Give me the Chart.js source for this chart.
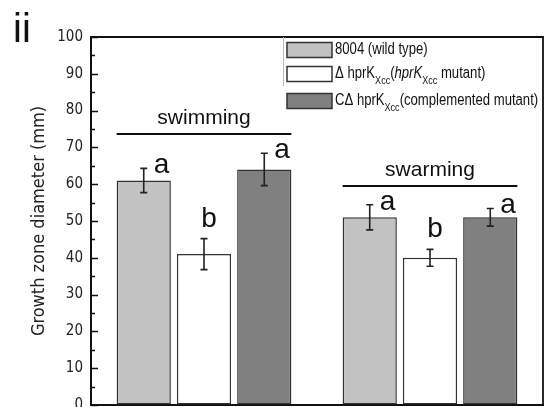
<!DOCTYPE html>
<html>
<head>
<meta charset="utf-8">
<script src="https://cdn.jsdelivr.net/npm/chart.js@4"></script>
<style>
  html, body { margin: 0; padding: 0; background: #fff; overflow: hidden; }
  #wrap { position: relative; width: 546px; height: 422px; }
</style>
</head>
<body>
<div id="wrap"><canvas id="motilityChart"></canvas></div>
<script>
'use strict';

// data (mm)
var assays = ['swimming', 'swarming'];
var wildType = [61, 51];
var wildTypeErr = [3.3, 3.4];
var mutant = [41, 40];
var mutantErr = [4.2, 2.3];
var complemented = [64, 51];
var complementedErr = [4.4, 2.4];
var letters = [['a', 'b', 'a'], ['a', 'b', 'a']];
var yTicks = [0, 10, 20, 30, 40, 50, 60, 70, 80, 90, 100];

var narrow = "'Liberation Sans Narrow', 'DejaVu Sans Condensed', 'Liberation Sans', sans-serif";
var sans = "'Liberation Sans', Arial, sans-serif";
var errs = [wildTypeErr, mutantErr, complementedErr];

// error bars, significance letters, group labels, frame, ticks, legend
var decor = {
  id: 'decor',
  afterDatasetsDraw: function(chart) {
    var ctx = chart.ctx, y = chart.scales.y, x = chart.scales.x, area = chart.chartArea;
    ctx.save();

    // error bars
    var tops = [[], []];
    ctx.strokeStyle = '#222';
    ctx.lineWidth = 1.6;
    chart.data.datasets.forEach(function(ds, d) {
      var meta = chart.getDatasetMeta(d);
      meta.data.forEach(function(bar, i) {
        var v = ds.data[i], e = errs[d][i];
        var yt = y.getPixelForValue(v + e), yb = y.getPixelForValue(v - e);
        tops[i][d] = yt;
        ctx.beginPath();
        ctx.moveTo(bar.x, yt); ctx.lineTo(bar.x, yb);
        ctx.moveTo(bar.x - 3.5, yt); ctx.lineTo(bar.x + 3.5, yt);
        ctx.moveTo(bar.x - 3.5, yb); ctx.lineTo(bar.x + 3.5, yb);
        ctx.stroke();

        // letter
        var l = letters[i][d];
        ctx.fillStyle = '#111';
        ctx.font = '28px ' + sans;
        ctx.textBaseline = 'alphabetic';
        if (l === 'a') {
          ctx.textAlign = 'left';
          ctx.fillText(l, bar.x + 10, yt + 5);
        } else {
          ctx.textAlign = 'center';
          ctx.fillText(l, bar.x + 5, yt - 12);
        }
      });
    });

    // group labels with lines
    assays.forEach(function(name, i) {
      var first = chart.getDatasetMeta(0).data[i];
      var last = chart.getDatasetMeta(2).data[i];
      var lineY = Math.round(Math.min.apply(null, tops[i]) - 19);
      ctx.strokeStyle = '#111';
      ctx.lineWidth = 2;
      ctx.beginPath();
      ctx.moveTo(first.x - first.width / 2, lineY);
      ctx.lineTo(last.x + last.width / 2, lineY);
      ctx.stroke();
      ctx.fillStyle = '#111';
      ctx.font = '21px ' + sans;
      ctx.textAlign = 'center';
      ctx.fillText(name, x.getPixelForValue(i), lineY - 10);
    });

    // frame top / right
    ctx.strokeStyle = '#111';
    ctx.lineWidth = 1.8;
    ctx.beginPath();
    ctx.moveTo(area.left, area.top);
    ctx.lineTo(area.right, area.top);
    ctx.lineTo(area.right, area.bottom);
    ctx.stroke();

    // inward ticks, major every 10, minor every 5
    ctx.lineWidth = 1.4;
    ctx.beginPath();
    for (var v = 0; v <= 100; v += 5) {
      var py = Math.round(y.getPixelForValue(v)) + 0.5;
      var len = v % 10 === 0 ? 7 : 4;
      ctx.moveTo(area.left, py);
      ctx.lineTo(area.left + len, py);
    }
    ctx.stroke();

    // legend
    var lx = 287, sw = 45, sh = 15;
    var rows = [50, 74, 101];
    ctx.strokeStyle = '#bbb';
    ctx.lineWidth = 1;
    ctx.beginPath();
    ctx.moveTo(283.5, area.top); ctx.lineTo(283.5, 86);
    ctx.stroke();
    chart.data.datasets.forEach(function(ds, d) {
      var cy = rows[d];
      ctx.fillStyle = ds.backgroundColor;
      ctx.fillRect(lx, cy - sh / 2, sw, sh);
      ctx.strokeStyle = '#333';
      ctx.lineWidth = 1.5;
      ctx.strokeRect(lx, cy - sh / 2, sw, sh);
    });
    var tx = 335, squeeze = 0.82;
    ctx.fillStyle = '#111';
    ctx.textAlign = 'left';
    ctx.textBaseline = 'middle';
    function run(parts, cy) {
      var px = 0;
      ctx.save();
      ctx.translate(tx, cy);
      ctx.scale(squeeze, 1);
      parts.forEach(function(p) {
        var size = p.sub ? 11 : 16;
        ctx.font = (p.it ? 'italic ' : '') + size + 'px ' + sans;
        ctx.fillText(p.t, px, p.sub ? 7 : 0);
        px += ctx.measureText(p.t).width;
      });
      ctx.restore();
    }
    run([{t: '8004 (wild type)'}], rows[0]);
    run([{t: '\u0394 hprK'}, {t: 'Xcc', sub: true}, {t: '('}, {t: 'hprK', it: true},
         {t: 'Xcc', sub: true}, {t: ' mutant)'}], rows[1]);
    run([{t: 'C\u0394 hprK'}, {t: 'Xcc', sub: true}, {t: '(complemented mutant)'}], rows[2]);

    // panel mark
    ctx.font = '40px ' + sans;
    ctx.textAlign = 'left';
    ctx.textBaseline = 'alphabetic';
    ctx.fillText('ii', 13, 42);

    ctx.restore();
  }
};

new Chart(document.getElementById('motilityChart'), {
  type: 'bar',
  data: {
    labels: assays,
    datasets: [
      { label: '8004 (wild type)', data: wildType, backgroundColor: '#c2c2c2' },
      { label: '\u0394 hprK (hprK mutant)', data: mutant, backgroundColor: '#ffffff' },
      { label: 'C\u0394 hprK (complemented mutant)', data: complemented, backgroundColor: '#808080' }
    ]
  },
  options: {
    responsive: true,
    maintainAspectRatio: false,
    animation: false,
    devicePixelRatio: 1,
    layout: { padding: { top: 37, right: 3, left: 0, bottom: 0 } },
    datasets: {
      bar: {
        categoryPercentage: 0.8,
        barPercentage: 0.9,
        borderColor: '#333',
        borderWidth: 1.5,
        borderSkipped: false
      }
    },
    plugins: {
      legend: { display: false },
      tooltip: { enabled: false }
    },
    scales: {
      x: {
        ticks: { display: false },
        grid: { display: false },
        border: { display: true, color: '#111', width: 2 },
        afterFit: function(s) { s.height = 3; }
      },
      y: {
        min: 0,
        max: 100,
        afterBuildTicks: function(s) { s.ticks = yTicks.map(function(v) { return { value: v }; }); },
        ticks: {
          autoSkip: false,
          padding: 8,
          color: '#222',
          font: { family: narrow, size: 15 }
        },
        grid: { drawOnChartArea: false, drawTicks: false },
        border: { display: true, color: '#111', width: 2 },
        title: {
          display: true,
          text: 'Growth zone diameter (mm)',
          color: '#222',
          font: { family: narrow, size: 18 },
          padding: { top: 29, bottom: 0 }
        },
        afterFit: function(s) { s.width = 91; }
      }
    }
  },
  plugins: [decor]
});
</script>
</body>
</html>
